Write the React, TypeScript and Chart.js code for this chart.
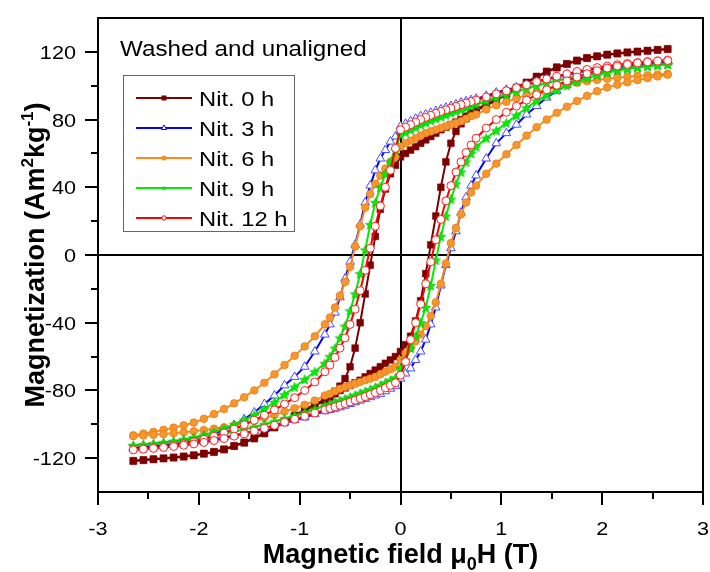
import React, { useEffect, useRef } from 'react';
import { Chart, registerables } from 'chart.js';

Chart.register(...registerables);

// Applied field (T), descending sweep (+2.65 -> -2.65)
const fieldDown = [2.65, 2.55, 2.45, 2.35, 2.25, 2.15, 2.05, 1.95, 1.85, 1.75, 1.65, 1.55, 1.45, 1.35, 1.25, 1.15, 1.05, 0.95, 0.85, 0.75, 0.7, 0.65, 0.6, 0.55, 0.5, 0.45, 0.4, 0.35, 0.3, 0.25, 0.2, 0.15, 0.1, 0.05, 0, -0.05, -0.1, -0.15, -0.2, -0.25, -0.3, -0.35, -0.4, -0.45, -0.5, -0.55, -0.6, -0.65, -0.7, -0.75, -0.85, -0.95, -1.05, -1.15, -1.25, -1.35, -1.45, -1.55, -1.65, -1.75, -1.85, -1.95, -2.05, -2.15, -2.25, -2.35, -2.45, -2.55, -2.65];
// ascending sweep (-2.65 -> +2.65)
const fieldUp = fieldDown.slice().reverse();

// Magnetization (Am2/kg)
const nit0Down = [121.8, 121.3, 120.8, 120.3, 119.8, 119.2, 118.5, 117.5, 116.5, 115, 113, 111, 108.5, 105.5, 102, 99, 95.5, 92, 89, 86, 84, 82, 80, 78.5, 77, 75.5, 74, 72, 70, 68, 66, 64, 62, 60, 58, 53, 48, 39, 27, 11, -6, -23, -40, -55, -66, -73, -77.5, -80.5, -83, -85.3, -88.3, -91.3, -94.8, -98.3, -101.5, -105, -108, -110.6, -112.7, -114.7, -116.2, -117.2, -118.2, -118.9, -119.5, -120, -120.5, -121, -121.5];
const nit0Up = [-121.8, -121.3, -120.8, -120.3, -119.8, -119.2, -118.5, -117.5, -116.5, -115, -113, -111, -108.5, -105.5, -102, -99, -95.5, -92, -89, -86, -84, -82, -80, -78.5, -77, -75.5, -74, -72, -70, -68, -66, -64, -62, -60, -57, -53, -48, -39, -27, -11, 6, 23, 40, 55, 66, 73, 77.5, 80.5, 83, 85.3, 88.3, 91.3, 94.8, 98.3, 101.5, 105, 108, 110.6, 112.7, 114.7, 116.2, 117.2, 118.2, 118.9, 119.5, 120, 120.5, 121, 121.5];

const nit3Down = [114.2, 113.8, 113.3, 112.8, 112.2, 111.5, 110.8, 110, 109, 107.8, 106.6, 105.3, 104, 102.3, 100.5, 99, 97.6, 96, 94, 92.3, 91.5, 90.8, 90, 89, 88, 87, 86, 85, 84, 83, 82, 80.5, 79, 77.5, 76, 70, 67, 62, 57, 50, 41, 31, 18, 6, -4, -14, -25, -34, -41, -47, -57, -66, -72, -77, -83, -88, -93, -97, -100.5, -103.5, -106, -108.3, -109.8, -110.9, -111.7, -112.3, -112.9, -113.4, -113.9];
const nit3Up = [-114.2, -113.8, -113.3, -112.8, -112.2, -111.5, -110.8, -110, -109, -107.8, -106.6, -105.3, -104, -102.3, -100.5, -99, -97.6, -96, -94, -92.3, -91.5, -90.8, -90, -89, -88, -87, -86, -85, -84, -83, -82, -80.5, -79, -77.5, -73, -70, -67, -62, -57, -50, -41, -31, -18, -6, 4, 14, 25, 34, 41, 47, 57, 66, 72, 77, 83, 88, 93, 97, 100.5, 103.5, 106, 108.3, 109.8, 110.9, 111.7, 112.3, 112.9, 113.4, 113.9];

const nit6Down = [107, 106.6, 106.2, 105.8, 105.3, 104.7, 104.1, 103.4, 102.6, 101.8, 100.6, 99.3, 98, 96.3, 94.5, 92.5, 90.5, 88.5, 86, 83, 82, 80.5, 79, 78, 77, 76, 75, 74, 73, 72, 70.5, 69, 67.5, 66, 64, 58, 55, 51, 47, 42, 36, 28, 17, 5, -7, -16, -24, -31, -37, -41, -48, -54, -59.5, -65, -70.5, -75.5, -80, -84, -87.6, -91, -94, -96.8, -99, -100.6, -102, -103.3, -104.5, -105.5, -106.5];
const nit6Up = [-107, -106.6, -106.2, -105.8, -105.3, -104.7, -104.1, -103.4, -102.6, -101.8, -100.6, -99.3, -98, -96.3, -94.5, -92.5, -90.5, -88.5, -86, -83, -82, -80.5, -79, -78, -77, -76, -75, -74, -73, -72, -70.5, -69, -67.5, -66, -62, -58, -55, -51, -47, -42, -36, -28, -17, -5, 7, 16, 24, 31, 37, 41, 48, 54, 59.5, 65, 70.5, 75.5, 80, 84, 87.6, 91, 94, 96.8, 99, 100.6, 102, 103.3, 104.5, 105.5, 106.5];

const nit9Down = [112.8, 112.3, 111.8, 111.2, 110.5, 109.7, 108.8, 107.8, 106.7, 105.5, 104.3, 103, 101.6, 100, 98.4, 96.6, 94.8, 93, 91, 89, 88, 87, 86, 85, 84, 82.8, 81.7, 80.6, 79.5, 78.2, 77, 75.5, 74, 72.5, 71, 62, 55, 48, 40, 31, 18, 3, -11, -23, -33, -42, -49, -55, -60, -64, -69, -73.5, -78, -82.5, -87, -91, -94.5, -97.5, -100.2, -102.5, -104.5, -106.3, -107.8, -109, -110, -110.8, -111.5, -112.1, -112.6];
const nit9Up = [-112.8, -112.3, -111.8, -111.2, -110.5, -109.7, -108.8, -107.8, -106.7, -105.5, -104.3, -103, -101.6, -100, -98.4, -96.6, -94.8, -93, -91, -89, -88, -87, -86, -85, -84, -82.8, -81.7, -80.6, -79.5, -78.2, -77, -75.5, -74, -72.5, -67, -62, -55, -48, -40, -31, -18, -3, 11, 23, 33, 42, 49, 55, 60, 64, 69, 73.5, 78, 82.5, 87, 91, 94.5, 97.5, 100.2, 102.5, 104.5, 106.3, 107.8, 109, 110, 110.8, 111.5, 112.1, 112.6];

const nit12Down = [115.1, 114.7, 114.2, 113.7, 113.1, 112.4, 111.6, 110.7, 109.6, 108.4, 107, 105.6, 104, 102.4, 100.6, 98.8, 97, 95.2, 93.3, 91.5, 90.6, 89.7, 88.8, 87.8, 86.8, 85.8, 84.8, 83.7, 82.5, 81.3, 80, 78.5, 77, 75.5, 74, 63, 50, 40, 29, 17, 4, -9, -21, -32, -41, -49, -55, -60.5, -65, -69, -75, -80, -84.3, -88, -91.5, -94.6, -97.6, -100.3, -102.8, -105.1, -107.1, -108.9, -110.4, -111.6, -112.6, -113.4, -114, -114.5, -114.9];
const nit12Up = [-115.1, -114.7, -114.2, -113.7, -113.1, -112.4, -111.6, -110.7, -109.6, -108.4, -107, -105.6, -104, -102.4, -100.6, -98.8, -97, -95.2, -93.3, -91.5, -90.6, -89.7, -88.8, -87.8, -86.8, -85.8, -84.8, -83.7, -82.5, -81.3, -80, -78.5, -77, -75.5, -71, -63, -50, -40, -29, -17, -4, 9, 21, 32, 41, 49, 55, 60.5, 65, 69, 75, 80, 84.3, 88, 91.5, 94.6, 97.6, 100.3, 102.8, 105.1, 107.1, 108.9, 110.4, 111.6, 112.6, 113.4, 114, 114.5, 114.9];

const seriesLabels = ['Nit. 0 h', 'Nit. 3 h', 'Nit. 6 h', 'Nit. 9 h', 'Nit. 12 h'];

const xMajorTicks = [-3, -2, -1, 0, 1, 2, 3];
const xMinorTicks = [-2.5, -1.5, -0.5, 0.5, 1.5, 2.5];
const yMajorTicks = [-120, -80, -40, 0, 40, 80, 120];
const yMinorTicks = [-100, -60, -20, 20, 60, 100];

const annotationText = 'Washed and unaligned';

const FONT = "'Liberation Sans', Arial, Helvetica, sans-serif";

const COLORS = {
  nit0: '#7d0000',
  nit3: '#0000ff',
  nit6: '#ff8a1c',
  nit9: '#00ee00',
  nit12: '#ff0000',
};

function makeStar(color: string, outer: number, inner: number): HTMLCanvasElement {
  const size = Math.ceil(outer * 2 + 2);
  const c = document.createElement('canvas');
  c.width = size;
  c.height = size;
  const g = c.getContext('2d')!;
  const cx = size / 2;
  const cy = size / 2 + 0.5;
  g.beginPath();
  for (let i = 0; i < 10; i++) {
    const r = i % 2 === 0 ? outer : inner;
    const a = -Math.PI / 2 + (i * Math.PI) / 5;
    const px = cx + r * Math.cos(a);
    const py = cy + r * Math.sin(a);
    if (i === 0) g.moveTo(px, py);
    else g.lineTo(px, py);
  }
  g.closePath();
  g.fillStyle = color;
  g.fill();
  g.strokeStyle = '#10b010';
  g.lineWidth = 0.6;
  g.stroke();
  return c;
}

function loop(down: number[], up: number[]) {
  return [
    ...fieldDown.map((x, i) => ({ x, y: down[i] })),
    ...fieldUp.map((x, i) => ({ x, y: up[i] })),
  ];
}

type Seg = { t: string; size: number; dy?: number };

function drawRich(
  ctx: CanvasRenderingContext2D,
  segs: Seg[],
  x: number,
  y: number,
  align: 'left' | 'center' | 'right',
  weight: string,
  sx: number
) {
  ctx.save();
  ctx.textBaseline = 'alphabetic';
  ctx.textAlign = 'left';
  ctx.fillStyle = '#000';
  let total = 0;
  const widths: number[] = [];
  for (const s of segs) {
    ctx.font = `${weight} ${s.size}px ${FONT}`;
    const w = ctx.measureText(s.t).width * sx;
    widths.push(w);
    total += w;
  }
  let cur = align === 'left' ? x : align === 'center' ? x - total / 2 : x - total;
  segs.forEach((s, i) => {
    ctx.font = `${weight} ${s.size}px ${FONT}`;
    ctx.save();
    ctx.translate(cur, y + (s.dy || 0));
    ctx.scale(sx, 1);
    ctx.fillText(s.t, 0, 0);
    ctx.restore();
    cur += widths[i];
  });
  ctx.restore();
}

function drawMarker(ctx: CanvasRenderingContext2D, kind: string, x: number, y: number, color: string, star: HTMLCanvasElement | null) {
  ctx.save();
  ctx.lineWidth = 1;
  if (kind === 'rect') {
    ctx.fillStyle = color;
    ctx.fillRect(x - 2.5, y - 2.5, 5, 5);
  } else if (kind === 'triangle') {
    ctx.fillStyle = '#fff';
    ctx.strokeStyle = color;
    ctx.beginPath();
    ctx.moveTo(x, y - 3);
    ctx.lineTo(x + 2.6, y + 1.5);
    ctx.lineTo(x - 2.6, y + 1.5);
    ctx.closePath();
    ctx.fill();
    ctx.stroke();
  } else if (kind === 'dot') {
    ctx.fillStyle = color;
    ctx.beginPath();
    ctx.arc(x, y, 2.5, 0, Math.PI * 2);
    ctx.fill();
  } else if (kind === 'star' && star) {
    ctx.drawImage(star, x - 3, y - 3, 6, 6);
  } else if (kind === 'ring') {
    ctx.fillStyle = '#fff';
    ctx.strokeStyle = color;
    ctx.beginPath();
    ctx.arc(x, y, 2.2, 0, Math.PI * 2);
    ctx.fill();
    ctx.stroke();
  }
  ctx.restore();
}

export default function App() {
  const canvasRef = useRef<HTMLCanvasElement | null>(null);

  useEffect(() => {
    const canvas = canvasRef.current;
    if (!canvas) return;
    const star = makeStar('#00f000', 5.2, 2.3);
    const legendKinds = ['rect', 'triangle', 'dot', 'star', 'ring'];
    const legendColors = [COLORS.nit0, COLORS.nit3, COLORS.nit6, COLORS.nit9, COLORS.nit12];

    const decor = {
      id: 'decor',
      beforeDatasetsDraw(chart: any) {
        const { ctx, chartArea: a, scales } = chart;
        const x0 = Math.round(scales.x.getPixelForValue(0));
        const y0 = Math.round(scales.y.getPixelForValue(0));
        ctx.save();
        ctx.strokeStyle = '#000';
        ctx.lineWidth = 2;
        ctx.beginPath();
        ctx.moveTo(x0, a.top);
        ctx.lineTo(x0, a.bottom);
        ctx.moveTo(a.left, y0);
        ctx.lineTo(a.right, y0);
        ctx.stroke();
        ctx.restore();
      },
      afterDraw(chart: any) {
        const { ctx, chartArea: a, scales } = chart;
        const xs = scales.x;
        const ys = scales.y;
        ctx.save();
        ctx.strokeStyle = '#000';
        ctx.lineWidth = 2;
        ctx.strokeRect(a.left, a.top, a.right - a.left, a.bottom - a.top);
        ctx.beginPath();
        for (const v of xMajorTicks) {
          const px = Math.round(xs.getPixelForValue(v));
          ctx.moveTo(px, a.bottom);
          ctx.lineTo(px, a.bottom + 13);
        }
        for (const v of xMinorTicks) {
          const px = Math.round(xs.getPixelForValue(v));
          ctx.moveTo(px, a.bottom);
          ctx.lineTo(px, a.bottom + 7);
        }
        for (const v of yMajorTicks) {
          const py = Math.round(ys.getPixelForValue(v));
          ctx.moveTo(a.left, py);
          ctx.lineTo(a.left - 13, py);
        }
        for (const v of yMinorTicks) {
          const py = Math.round(ys.getPixelForValue(v));
          ctx.moveTo(a.left, py);
          ctx.lineTo(a.left - 7, py);
        }
        ctx.stroke();
        ctx.restore();

        // tick labels
        for (const v of yMajorTicks) {
          const py = ys.getPixelForValue(v);
          drawRich(ctx, [{ t: String(v), size: 19 }], a.left - 22, py + 7, 'right', 'normal', 1.14);
        }
        for (const v of xMajorTicks) {
          const px = xs.getPixelForValue(v);
          drawRich(ctx, [{ t: String(v), size: 19 }], px, a.bottom + 43, 'center', 'normal', 1.14);
        }

        // axis titles
        drawRich(
          ctx,
          [
            { t: 'Magnetic field \u03bc', size: 27 },
            { t: '0', size: 18, dy: 7 },
            { t: 'H (T)', size: 27 },
          ],
          (a.left + a.right) / 2,
          563,
          'center',
          'bold',
          1.0
        );
        ctx.save();
        ctx.translate(44, (a.top + a.bottom) / 2);
        ctx.rotate(-Math.PI / 2);
        drawRich(
          ctx,
          [
            { t: 'Magnetization (Am', size: 27 },
            { t: '2', size: 17, dy: -11 },
            { t: 'kg', size: 27 },
            { t: '-1', size: 17, dy: -11 },
            { t: ')', size: 27 },
          ],
          0,
          0,
          'center',
          'bold',
          1.0
        );
        ctx.restore();

        // annotation
        drawRich(ctx, [{ t: annotationText, size: 22 }], 120, 56, 'left', 'normal', 1.1);

        // legend
        ctx.save();
        ctx.fillStyle = '#fff';
        ctx.fillRect(123, 75, 171, 156);
        ctx.strokeStyle = '#666';
        ctx.lineWidth = 1;
        ctx.strokeRect(123.5, 75.5, 171, 156);
        ctx.restore();
        seriesLabels.forEach((lab, i) => {
          const ry = 98 + i * 30;
          ctx.save();
          ctx.strokeStyle = legendColors[i];
          ctx.lineWidth = 2;
          ctx.beginPath();
          ctx.moveTo(136, ry);
          ctx.lineTo(192, ry);
          ctx.stroke();
          ctx.restore();
          drawMarker(ctx, legendKinds[i], 164, ry, legendColors[i], star);
          drawRich(ctx, [{ t: lab, size: 21 }], 199, ry + 7.5, 'left', 'normal', 1.13);
        });
      },
    };

    const chart = new Chart(canvas, {
      type: 'line',
      data: {
        datasets: [
          {
            label: seriesLabels[0],
            data: loop(nit0Down, nit0Up),
            borderColor: COLORS.nit0,
            backgroundColor: COLORS.nit0,
            borderWidth: 2,
            pointStyle: 'rect',
            pointRadius: 4.8,
            pointBackgroundColor: COLORS.nit0,
            pointBorderColor: COLORS.nit0,
            pointBorderWidth: 0.5,
            order: 4,
          },
          {
            label: seriesLabels[1],
            data: loop(nit3Down, nit3Up),
            borderColor: COLORS.nit3,
            backgroundColor: '#fff',
            borderWidth: 2,
            pointStyle: 'triangle',
            pointRadius: 5,
            pointBackgroundColor: '#fff',
            pointBorderColor: '#4a4aff',
            pointBorderWidth: 1,
            order: 3,
          },
          {
            label: seriesLabels[2],
            data: loop(nit6Down, nit6Up),
            borderColor: COLORS.nit6,
            backgroundColor: COLORS.nit6,
            borderWidth: 2,
            pointStyle: 'circle',
            pointRadius: 3.8,
            pointBackgroundColor: '#f7962f',
            pointBorderColor: '#e87f12',
            pointBorderWidth: 0.8,
            order: 2,
          },
          {
            label: seriesLabels[3],
            data: loop(nit9Down, nit9Up),
            borderColor: COLORS.nit9,
            backgroundColor: COLORS.nit9,
            borderWidth: 2,
            pointStyle: star as any,
            pointRadius: 5,
            order: 1,
          },
          {
            label: seriesLabels[4],
            data: loop(nit12Down, nit12Up),
            borderColor: COLORS.nit12,
            backgroundColor: '#fff',
            borderWidth: 2,
            pointStyle: 'circle',
            pointRadius: 4,
            pointBackgroundColor: '#fff',
            pointBorderColor: '#ff2020',
            pointBorderWidth: 1,
            order: 0,
          },
        ],
      },
      options: {
        animation: false,
        responsive: false,
        devicePixelRatio: 1,
        events: [],
        layout: { padding: { left: 0, right: 3, top: 18, bottom: 0 } },
        plugins: {
          legend: { display: false },
          tooltip: { enabled: false },
          title: { display: false },
        },
        elements: { line: { tension: 0 } },
        scales: {
          x: {
            type: 'linear',
            min: -3,
            max: 3,
            grid: { display: false },
            border: { display: false },
            ticks: { display: false },
            afterFit: (s: any) => {
              s.height = 80;
            },
          },
          y: {
            type: 'linear',
            min: -140,
            max: 140,
            grid: { display: false },
            border: { display: false },
            ticks: { display: false },
            afterFit: (s: any) => {
              s.width = 98;
            },
          },
        },
      },
      plugins: [decor],
    } as any);

    return () => {
      chart.destroy();
    };
  }, []);

  return (
    <div style={{ position: 'absolute', left: 0, top: 0, width: 710, height: 572, background: '#fff' }}>
      <canvas ref={canvasRef} width={710} height={572} style={{ display: 'block' }} />
    </div>
  );
}
